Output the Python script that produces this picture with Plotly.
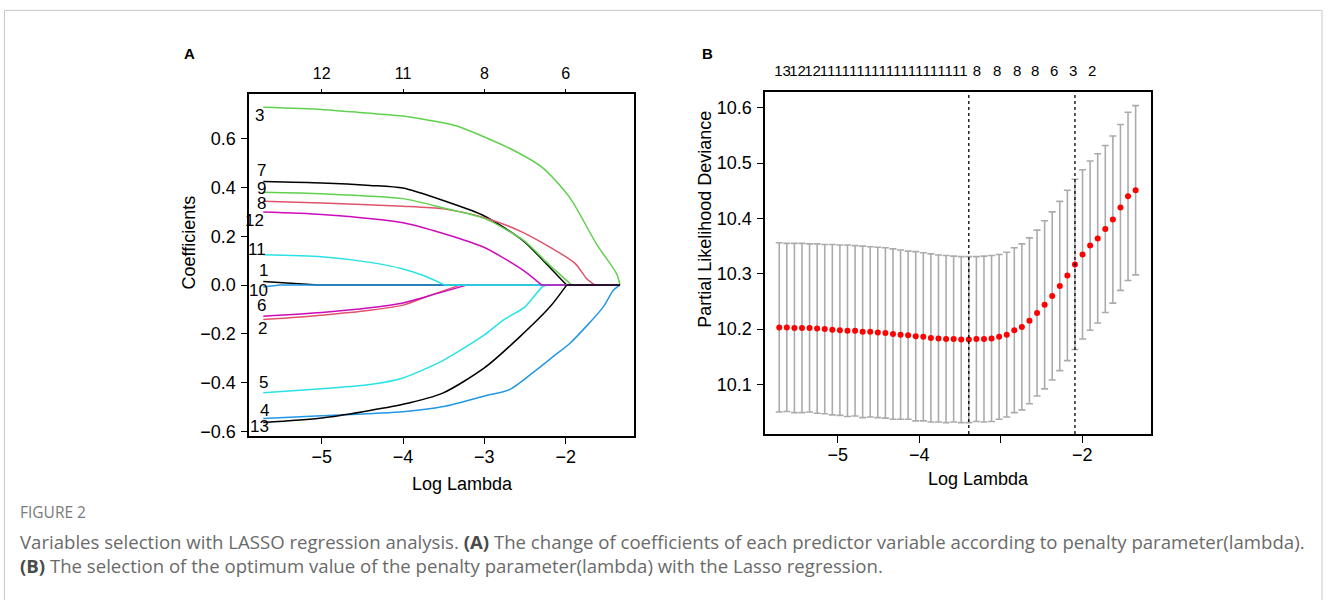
import plotly.graph_objects as go

# ---------------- Panel A: LASSO coefficient paths ----------------
var_labels = ["1", "2", "3", "4", "5", "6", "7", "8", "9", "10", "11", "12", "13"]
path_x = [
    [-5.718, -5.04, -1.332],
    [-5.718, -5.0, -4.406, -4.0, -3.668, -3.30, -1.332],
    [-5.718, -5.0, -4.489, -4.0, -3.668, -3.34, -2.685, -2.275, -1.947, -1.619, -1.373, -1.332],
    [-5.718, -5.0, -4.0, -3.505, -3.0, -2.685, -2.356, -2.152, -1.947, -1.537, -1.414, -1.332],
    [-5.718, -5.0, -4.406, -4.0, -3.505, -3.0, -2.767, -2.50, -2.29, -2.23, -1.332],
    [-5.718, -5.0, -4.406, -4.0, -3.586, -3.218, -1.332],
    [-5.718, -5.0, -4.406, -4.0, -3.505, -3.0, -2.521, -2.275, -1.988, -1.332],
    [-5.718, -5.0, -4.0, -3.505, -3.0, -2.521, -1.885, -1.742, -1.640, -1.332],
    [-5.718, -5.0, -4.0, -3.505, -3.0, -2.521, -2.234, -1.926, -1.332],
    [-5.718, -5.513, -1.332],
    [-5.718, -5.0, -4.406, -4.0, -3.75, -3.485, -1.332],
    [-5.718, -5.0, -4.0, -3.505, -3.0, -2.521, -2.295, -1.332],
    [-5.718, -5.0, -4.0, -3.505, -3.0, -2.562, -2.193, -1.988, -1.332],
]
path_y = [
    [0.015, 0.0, 0.0],
    [-0.141, -0.123, -0.103, -0.082, -0.042, 0.0, 0.0],
    [0.728, 0.719, 0.705, 0.692, 0.674, 0.651, 0.559, 0.478, 0.357, 0.167, 0.046, 0.0],
    [-0.546, -0.535, -0.518, -0.497, -0.454, -0.427, -0.346, -0.292, -0.238, -0.089, -0.021, 0.0],
    [-0.441, -0.424, -0.407, -0.380, -0.308, -0.204, -0.143, -0.089, -0.008, 0.0, 0.0],
    [-0.127, -0.112, -0.093, -0.073, -0.035, 0.0, 0.0],
    [0.424, 0.418, 0.408, 0.397, 0.346, 0.283, 0.181, 0.100, 0.0, 0.0],
    [0.343, 0.336, 0.323, 0.312, 0.276, 0.215, 0.089, 0.026, 0.0, 0.0],
    [0.380, 0.374, 0.354, 0.316, 0.273, 0.184, 0.093, 0.0, 0.0],
    [-0.008, 0.0, 0.0],
    [0.124, 0.116, 0.093, 0.066, 0.039, 0.0, 0.0],
    [0.299, 0.289, 0.255, 0.211, 0.154, 0.060, 0.0, 0.0],
    [-0.562, -0.544, -0.488, -0.441, -0.339, -0.211, -0.089, 0.0, 0.0],
]
a_x_ticks = [-5, -4, -3, -2]
a_top_labels = ["12", "11", "8", "6"]
a_y_ticks = [-0.6, -0.4, -0.2, 0.0, 0.2, 0.4, 0.6]

# ---------------- Panel B: cross-validation curve ----------------
log_lambda = [-5.717, -5.624, -5.531, -5.438, -5.345, -5.252, -5.159, -5.066, -4.973, -4.880,
              -4.787, -4.694, -4.601, -4.508, -4.415, -4.322, -4.229, -4.136, -4.043, -3.950,
              -3.857, -3.764, -3.671, -3.578, -3.485, -3.392, -3.299, -3.206, -3.113, -3.020,
              -2.927, -2.834, -2.741, -2.648, -2.555, -2.462, -2.369, -2.276, -2.183, -2.090,
              -1.997, -1.904, -1.811, -1.718, -1.625, -1.532, -1.439, -1.346]
cv_mean = [10.203, 10.203, 10.202, 10.202, 10.202, 10.201, 10.200, 10.199, 10.198, 10.197,
           10.197, 10.195, 10.195, 10.194, 10.193, 10.191, 10.190, 10.189, 10.187, 10.186,
           10.184, 10.183, 10.182, 10.182, 10.181, 10.181, 10.182, 10.182, 10.183, 10.186,
           10.190, 10.198, 10.204, 10.215, 10.229, 10.244, 10.260, 10.278, 10.297, 10.317,
           10.335, 10.351, 10.364, 10.381, 10.398, 10.420, 10.440, 10.451]
cv_se = [0.153, 0.152, 0.153, 0.153, 0.152, 0.153, 0.153, 0.154, 0.154, 0.155,
         0.154, 0.155, 0.154, 0.154, 0.154, 0.154, 0.153, 0.152, 0.153, 0.152,
         0.152, 0.151, 0.151, 0.150, 0.150, 0.150, 0.149, 0.150, 0.150, 0.149,
         0.149, 0.149, 0.150, 0.150, 0.150, 0.152, 0.152, 0.153, 0.154, 0.154,
         0.153, 0.153, 0.153, 0.151, 0.151, 0.150, 0.152, 0.153]
idx_lambda_min = 25
idx_lambda_1se = 39
b_top_pos = [-5.677, -5.493, -5.309, -5.126, -4.946, -4.766, -4.585, -4.405, -4.225, -4.044,
             -3.864, -3.683, -3.503, -3.291, -3.045, -2.800, -2.579, -2.346, -2.113, -1.880]
b_top_labels = ["13", "12", "12", "11", "11", "11", "11", "11", "11", "11",
                "11", "11", "11", "8", "8", "8", "8", "6", "3", "2"]
b_x_ticks = [-5, -4, -3, -2]
b_x_ticktext = ["\u22125", "\u22124", "", "\u22122"]
b_y_ticks = [10.1, 10.2, 10.3, 10.4, 10.5, 10.6]

# ---------------- styling ----------------
W, H = 1328, 600
FONT = "Liberation Sans, Arial, sans-serif"
palette = ["#000000", "#DF536B", "#61D04F", "#2297E6", "#28E2E5", "#CD0BBC"]

# label placement for the variable numbers at the left of panel A (data coords)
label_pos = {
    "3": (-5.759, 0.694), "7": (-5.746, 0.470), "9": (-5.746, 0.397), "8": (-5.746, 0.336),
    "12": (-5.820, 0.266), "11": (-5.800, 0.144), "1": (-5.718, 0.058), "10": (-5.783, -0.024),
    "6": (-5.743, -0.085), "2": (-5.724, -0.178), "5": (-5.712, -0.400), "4": (-5.706, -0.515),
    "13": (-5.759, -0.578),
}

def px_x(p):
    return p / W

def px_y(p):
    return 1 - p / H

fig = go.Figure()

for i, name in enumerate(var_labels):
    xs, ys = path_x[i], path_y[i]
    # first index where the coefficient reaches zero (the rest of the path stays at zero)
    z = next((k for k, v in enumerate(ys) if v == 0.0), len(ys) - 1)
    col = palette[i % 6]
    fig.add_trace(go.Scatter(
        x=xs[:z + 1], y=ys[:z + 1], mode="lines",
        line=dict(color=col, width=1.5, shape="spline", smoothing=0.7),
        xaxis="x", yaxis="y", showlegend=False, hoverinfo="skip"))
    if z < len(ys) - 1:
        fig.add_trace(go.Scatter(
            x=xs[z:], y=ys[z:], mode="lines", line=dict(color=col, width=1.5),
            xaxis="x", yaxis="y", showlegend=False, hoverinfo="skip"))

# invisible helper so the top axis of A renders
fig.add_trace(go.Scatter(x=[a_x_ticks[0]], y=[0], xaxis="x2", yaxis="y", mode="markers",
                         marker=dict(opacity=0), showlegend=False, hoverinfo="skip"))

fig.add_trace(go.Scatter(
    x=log_lambda, y=cv_mean, mode="markers",
    marker=dict(color="#FF0000", size=6),
    error_y=dict(type="data", array=cv_se, color="#ABABAB", thickness=1.6, width=3.5),
    xaxis="x3", yaxis="y3", showlegend=False, hoverinfo="skip"))
fig.add_trace(go.Scatter(x=[log_lambda[0]], y=[cv_mean[0]], xaxis="x4", yaxis="y3", mode="markers",
                         marker=dict(opacity=0), showlegend=False, hoverinfo="skip"))

axis_common = dict(showgrid=False, zeroline=False, showline=True, linecolor="black",
                   linewidth=1.6, mirror=True, ticks="outside", ticklen=7, tickwidth=1.4,
                   tickcolor="black", tickfont=dict(family=FONT, size=18, color="black"))

fig.update_layout(
    width=W, height=H, margin=dict(l=0, r=0, t=0, b=0),
    paper_bgcolor="white", plot_bgcolor="white",
    xaxis=dict(domain=[px_x(249.3), px_x(634)], range=[-5.890, -1.160], anchor="y",
               tickvals=a_x_ticks, ticklabelstandoff=-3, **axis_common),
    yaxis=dict(domain=[px_y(440), px_y(95)], range=[-0.616, 0.782], anchor="x",
               tickvals=a_y_ticks, tickformat=".1f", ticklabelstandoff=1, **axis_common),
    xaxis2=dict(overlaying="x", side="top", anchor="y", range=[-5.890, -1.160],
                tickvals=a_x_ticks, ticktext=a_top_labels, ticks="outside", ticklen=4,
                tickwidth=1.4, tickcolor="black", showgrid=False, zeroline=False, showline=False,
                ticklabelstandoff=4, tickangle=0, tickfont=dict(family=FONT, size=16, color="black")),
    xaxis3=dict(domain=[px_x(765.3), px_x(1150.7)], range=[-5.888, -1.161], anchor="y3",
                tickvals=b_x_ticks, ticktext=b_x_ticktext, ticklabelstandoff=-3, **axis_common),
    yaxis3=dict(domain=[px_y(438.3), px_y(93.3)], range=[10.0105, 10.628], anchor="x3",
                tickvals=b_y_ticks, tickformat=".1f", ticklabelstandoff=1, **axis_common),
    xaxis4=dict(overlaying="x3", side="top", anchor="y3", range=[-5.888, -1.161],
                tickvals=b_top_pos, ticktext=b_top_labels, ticks="", showgrid=False,
                zeroline=False, showline=False, ticklabelstandoff=12, tickangle=0,
                tickfont=dict(family=FONT, size=15, color="black")),
)

shapes = []
for idx in (idx_lambda_min, idx_lambda_1se):
    shapes.append(dict(type="line", xref="x3", yref="y3 domain", x0=log_lambda[idx], x1=log_lambda[idx],
                       y0=0, y1=1, line=dict(color="black", width=1.3, dash="dot")))
# outer figure frame
shapes.append(dict(type="rect", xref="paper", yref="paper", x0=px_x(4.5), x1=px_x(1322),
                   y0=-0.05, y1=px_y(10.5), line=dict(color="#c8c8c8", width=1), fillcolor="rgba(0,0,0,0)",
                   layer="below"))
fig.update_layout(shapes=shapes)

ann = []
for name in var_labels:
    lx, ly = label_pos[name]
    ann.append(dict(x=lx, y=ly, xref="x", yref="y", text=name, showarrow=False,
                    xanchor="center", yanchor="middle", font=dict(family=FONT, size=17, color="black")))

# axis titles and panel letters
ann += [
    dict(x=px_x(462.5), y=px_y(489), xref="paper", yref="paper", text="Log Lambda", showarrow=False,
         xanchor="center", yanchor="middle", font=dict(family=FONT, size=18, color="black")),
    dict(x=px_x(978), y=px_y(483.5), xref="paper", yref="paper", text="Log Lambda", showarrow=False,
         xanchor="center", yanchor="middle", font=dict(family=FONT, size=18, color="black")),
    dict(x=px_x(189), y=px_y(245), xref="paper", yref="paper", text="Coefficients", showarrow=False,
         textangle=-90, xanchor="center", yanchor="middle", font=dict(family=FONT, size=18, color="black")),
    dict(x=px_x(705), y=px_y(222), xref="paper", yref="paper", text="Partial Likelihood Deviance",
         showarrow=False, textangle=-90, xanchor="center", yanchor="middle",
         font=dict(family=FONT, size=18, color="black")),
    dict(x=px_x(189), y=px_y(54.5), xref="paper", yref="paper", text="<b>A</b>", showarrow=False,
         xanchor="center", yanchor="middle", font=dict(family=FONT, size=15, color="black")),
    dict(x=px_x(707.5), y=px_y(54), xref="paper", yref="paper", text="<b>B</b>", showarrow=False,
         xanchor="center", yanchor="middle", font=dict(family=FONT, size=15, color="black")),
]

# caption
CAP = "Open Sans, Liberation Sans, sans-serif"
ann += [
    dict(x=px_x(18), y=px_y(517), xref="paper", yref="paper", text="FIGURE 2", showarrow=False,
         xanchor="left", yanchor="middle", font=dict(family=CAP, size=15.5, color="#7a7a7a")),
    dict(x=px_x(18), y=px_y(547), xref="paper", yref="paper",
         text="Variables selection with LASSO regression analysis. <b style='color:#4a4a4a'>(A)</b> The change of coefficients of each predictor variable according to penalty parameter(lambda).",
         showarrow=False, xanchor="left", yanchor="middle", font=dict(family=CAP, size=18.6, color="#6a6a6a")),
    dict(x=px_x(18), y=px_y(571), xref="paper", yref="paper",
         text="<b style='color:#4a4a4a'>(B)</b> The selection of the optimum value of the penalty parameter(lambda) with the Lasso regression.",
         showarrow=False, xanchor="left", yanchor="middle", font=dict(family=CAP, size=18.6, color="#6a6a6a")),
]
fig.update_layout(annotations=ann)

fig.write_html("out.html")
